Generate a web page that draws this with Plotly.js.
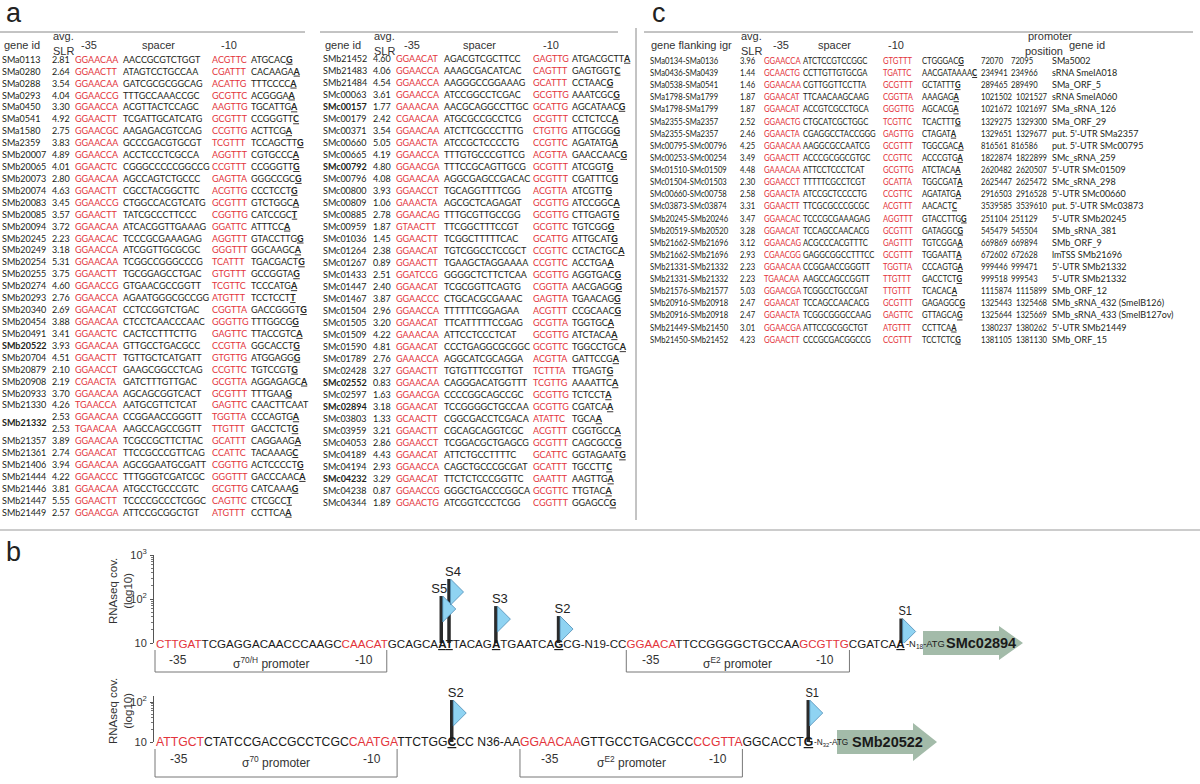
<!DOCTYPE html>
<html><head><meta charset="utf-8">
<script src="https://cdn.plot.ly/plotly-3.0.1.min.js"></script>
<style>html,body{margin:0;padding:0;background:#fff}#chart{width:1200px;height:784px}</style>
</head><body><div id="chart"></div>
<script>
// ================= DATA =================
// Panel a, left table
const aGeneL = ['SMa0113','SMa0280','SMa0288','SMa0293','SMa0450','SMa0541','SMa1580','SMa2359','SMb20007','SMb20065','SMb20073','SMb20074','SMb20083','SMb20085','SMb20094','SMb20245','SMb20249','SMb20254','SMb20255','SMb20274','SMb20293','SMb20340','SMb20454','SMb20491','SMb20522','SMb20704','SMb20879','SMb20908','SMb20933','SMb21330','SMb21332','SMb21332','SMb21357','SMb21361','SMb21406','SMb21444','SMb21446','SMb21447','SMb21449'];
const aSlrL = [2.81,2.64,3.54,4.04,3.30,4.92,2.75,3.83,4.89,4.01,2.80,4.63,3.45,3.57,3.72,2.23,3.18,5.31,3.75,4.60,2.76,2.69,3.88,3.41,3.93,4.51,2.10,2.19,3.70,4.26,2.53,2.53,3.89,2.74,3.94,4.22,3.81,5.55,2.57];
const aM35L = ['GGAACAA','GGAACTT','GGAACAA','GGAACCG','GGAACCA','GGAACTT','GGAACGC','GGAACAA','GGAACCA','GGAACTC','GGAACAA','GGAACTT','GGAACCG','GGAACTT','GGAACAA','GGAACAC','GGAACCA','GGAACAA','GGAACTT','GGAACCG','GGAACCA','GGAACAT','GGAACAA','GGAACTC','GGAACAA','GGAACTT','GGAACCT','CGAACTA','GGAACAA','TGAACCA','GGAACAA','TGAACAA','GGAACAA','GGAACAT','GGAACAA','GGAACCC','GGAACAA','GGAACTT','GGAACGA'];
const aSpacerL = ['AACCGCGTCTGGT','ATAGTCCTGCCAA','GATCGCGCGGCAG','TTTGCCAAACCGC','ACGTTACTCCAGC','TCGATTGCATCATG','AAGAGACGTCCAG','GCCCGACGTGCGT','ACCTCCCTCGCCA','CGGGCCCCCGGCCG','AGCCAGTCTGCCC','CGCCTACGGCTTC','CTGGCCACGTCATG','TATCGCCCTTCCC','ATCACGGTTGAAAG','TCCCGCGAAAGAG','ATCGGTTGCGCGC','TCGGCCGGGCCCG','TGCGGAGCCTGAC','GTGAACGCCGGTT','AGAATGGGCGCCGG','CCTCCGGTCTGAC','CTCCTCAACCCAAC','CACTCCTTTCTTG','GTTGCCTGACGCC','TGTTGCTCATGATT','GAAGCGGCCTCAG','GATCTTTGTTGAC','AGCAGCGGTCACT','AATGCGTTCTCAT','CCGGAACCGGGTT','AAGCCAGCCGGTT','TCGCCGCTTCTTAC','TTCCGCCCGTTCAG','AGCGGAATGCGATT','TTTGGGTCGATCGC','ATGCCTGCCCGTC','TCCCCGCCCTCGGC','ATTCCGCGGCTGT'];
const aM10L = ['ACGTTC','CGATTT','ACATTG','GCGTTC','AAGTTG','GCGTTT','CCGTTG','TCGTTT','AGGTTT','CCGTTT','GAGTTA','ACGTTG','GCGTTT','CGGTTG','GGATTC','AGGTTT','GGGTTT','TCATTT','GTGTTT','TCGTTC','ATGTTT','CGGTTA','GGGTTG','GAGTTC','CCGTTA','GTGTTG','CCGTTC','GCGTTA','GCGTTT','GAGTTC','TGGTTA','TTGTTT','GCATTT','CCATTC','CGGTTG','GGGTTT','GCGTTG','CAGTTC','ATGTTT'];
const aDownL = ['ATGCAC','CACAAGA','TTTCCCC','ACGGGA','TGCATTG','CCGGGTT','ACTTCG','TCCAGCTT','CGTGCCC','CCGGGTT','GGGCCGC','CCCTCCT','GTCTGGC','CATCCGC','ATTTCC','GTACCTTG','GGCAAGC','TGACGACT','GCCGGTA','TCCCATG','TCCTCCT','GACCGGGT','TTTGGCG','TTACCGTC','GGCACCT','ATGGAGG','TGTCCGT','AGGAGAGC','TTTGAA','CAACTTCAAT','CCCAGTG','GACCTCT','CAGGAAG','TACAAAG','ACTCCCCT','GACCCAAC','CATCAAA','CTCGCC','CCTTCA'];
const aTssL = ['G','A','A','A','A','C','A','G','A','G','G','G','A','T','A','G','A','G','G','A','T','G','G','A','G','G','G','A','G','','A','G','A','C','G','A','G','T','A'];
const aBoldL = ['SMb20522','SMb21332'];

// Panel a, right table
const aGeneR = ['SMb21452','SMb21483','SMb21484','SMc00063','SMc00157','SMc00179','SMc00371','SMc00660','SMc00665','SMc00792','SMc00796','SMc00800','SMc00809','SMc00885','SMc00959','SMc01036','SMc01264','SMc01267','SMc01433','SMc01447','SMc01467','SMc01504','SMc01505','SMc01509','SMc01590','SMc01789','SMc02428','SMc02552','SMc02597','SMc02894','SMc03803','SMc03959','SMc04053','SMc04189','SMc04194','SMc04232','SMc04238','SMc04344'];
const aSlrR = [4.60,4.06,4.54,3.61,1.77,2.42,3.54,5.05,4.19,4.80,4.08,3.93,1.06,2.78,1.87,1.45,2.38,0.89,2.51,2.40,3.87,2.96,3.20,4.22,4.81,2.76,3.27,0.83,1.63,3.18,1.33,3.21,2.86,4.43,2.93,3.29,0.87,1.89];
const aM35R = ['GGAACAT','GGAACCA','GGAACCA','GGAACCA','GAAACAA','CGAACAA','GGAACAA','GGAACTA','GGAACCA','GGAACGA','GGAACAA','GGAACCT','GAAACTA','GGAACAG','GTAACTT','GGAACTT','GGAACAT','GGAACTT','GGATCCG','GGAACAT','GGAACCC','GGAACCA','GGAACAT','GAAACAA','GGAACAT','GAAACCA','GGAACTT','GGAACAA','GGAACGA','GGAACAT','GCAACTT','GGAACTT','GGAACCT','GGAACAT','GGAACCA','GGAACAT','GGAACCG','GGAACTG'];
const aSpacerR = ['AGACGTCGCTTCC','AAAGCGACATCAC','AAGGGCCGGAAAG','ATCCGGCCTCGAC','AACGCAGGCCTTGC','ATGCGCCGCCTCG','ATCTTCGCCCTTTG','ATCCGCTCCCCTG','TTTGTGCCCGTTCG','TTTCCGCAGTTGCG','AGGCGAGCCGACAC','TGCAGGTTTTCGG','AGCGCTCAGAGAT','TTTGCGTTGCCGG','TTCGGCTTTCCGT','TCGGCTTTTTCAC','TGTCGGCCTCCGCT','TGAAGCTAGGAAAA','GGGGCTCTTCTCAA','TCGCGGTTCAGTG','CTGCACGCGAAAC','TTTTTTCGGAGAA','TTCATTTTTCCGAG','ATTCCTCCCTCAT','CCCTGAGGCGCGGC','AGGCATCGCAGGA','TGTGTTTCCGTTGT','CAGGGACATGGTTT','CCCCGGCAGCCGC','TCCGGGGCTGCCAA','CGGCGACCTCGACA','CGCAGCAGGTCGC','TCGGACGCTGAGCG','ATTCTGCCTTTTC','CAGCTGCCCGCGAT','TTCTCTCCCGGTTC','GGGCTGACCCGGCA','ATCGGTCCCTCGG'];
const aM10R = ['GAGTTG','CAGTTT','GCATTT','GCGTTG','GCATTG','GCGTTT','CTGTTG','CCGTTC','ACGTTA','GCGTTT','GCGTTT','ACGTTA','GCGTTG','GCGTTG','GCGTTC','GCATTG','CCGTTC','CCGTTC','GCGTTG','CGGTTA','GAGTTA','ACGTTT','GCGTTA','GCGTTG','GCGTTC','ACGTTA','TCTTTA','TCGTTG','GCGTTG','GCGTTG','ATATTC','ACGTTT','GCGTTT','GCATTC','GCATTT','GAATTT','GCGTTC','CGGTTT'];
const aDownR = ['ATGACGCTT','GAGTGGT','CCTAAC','AAATCGC','AGCATAAC','CCTCTCC','ATTGCGG','AGATATG','GAACCAAC','ATCGGT','CGATTTC','ATCGTT','ATCCGGC','CTTGAGT','TGTCGG','ATTGCAT','CCTACTGC','ACCTGA','AGGTGAC','AACGAGG','TGAACAG','CCGCAAC','TGGTGC','ATCTACA','TGGCCTGC','GATTCCG','TTGAGT','AAAATTC','TCTCCT','CGATCA','TGCA','CGGTGCC','CAGCGCC','GGTAGAAT','TGCCTT','AAGTTG','TTGTAC','GGAGCC'];
const aTssR = ['A','C','G','G','G','A','G','A','G','G','G','G','A','G','G','G','A','A','G','G','G','G','A','A','A','A','G','A','A','A','A','A','G','G','C','A','A','G'];
const aBoldR = ['SMc00157','SMc00792','SMc02552','SMc02894','SMc04232'];

// Panel c
const cFlank = ['SMa0134-SMa0136','SMa0436-SMa0439','SMa0538-SMa0541','SMa1798-SMa1799','SMa1798-SMa1799','SMa2355-SMa2357','SMa2355-SMa2357','SMc00795-SMc00796','SMc00253-SMc00254','SMc01510-SMc01509','SMc01504-SMc01503','SMc00660-SMc00758','SMc03873-SMc03874','SMb20245-SMb20246','SMb20519-SMb20520','SMb21662-SMb21696','SMb21662-SMb21696','SMb21331-SMb21332','SMb21331-SMb21332','SMb21576-SMb21577','SMb20916-SMb20918','SMb20916-SMb20918','SMb21449-SMb21450','SMb21450-SMb21452'];
const cSlr = [3.96,1.44,1.46,1.87,1.87,2.52,2.46,4.25,3.49,4.48,2.30,2.58,3.31,3.47,3.28,3.12,2.93,2.23,2.23,5.03,2.47,2.47,3.01,4.23];
const cM35 = ['GGAACCA','GCAACTG','GGAACAA','GGAACAT','GGAACAT','GGAACTG','GGAACTA','GGAACAA','GGAACTT','GAAACAA','GGAACCT','GGAACTA','GGAACTT','GGAACAC','GGAACAT','GGAACAG','CGAACGG','GGAACAA','TGAACAA','GGAACGA','GGAACAT','GGAACTA','GGAACGA','GGAACTT'];
const cSpacer = ['ATCTCCGTCCGGC','CCTTGTTGTGCGA','CGTTGGTTCCTTA','TTCAACAAGCAAG','ACCGTCGCCTGCA','CTGCATCGCTGGC','CGAGGCCTACCGGG','AAGGCGCCAATCG','ACCCGCGGCGTGC','ATTCCTCCCTCAT','TTTTTCGCCTCGT','ATCCGCTCCCCTG','TTCGCGCCCGCGC','TCCCGCGAAAGAG','TCCAGCCAACACG','ACGCCCACGTTTC','GAGGCGGCCTTTCC','CCGGAACCGGGTT','AAGCCAGCCGGTT','TCGGCCTGCCGAT','TCCAGCCAACACG','TCGGCGGGCCAAG','ATTCCGCGGCTGT','CCCGCGACGGCCG'];
const cM10 = ['GTGTTT','TGATTC','GCGTTT','CGGTTA','GGGTTG','TCGTTC','GAGTTG','GCGTTT','CCGTTC','GCGTTG','GCATTA','CCGTTC','ACGTTT','AGGTTT','GCGTTT','GAGTTT','GCGTTT','TGGTTA','TTGTTT','TTGTTT','GCGTTT','GAGTTC','ATGTTT','CCGTTT'];
const cDown = ['CTGGGAC','AACGATAAAA','GCTATTT','AAAGAG','AGCACG','TCACTTT','CTAGAT','TGGCGAC','ACCCGTG','ATCTACA','TGGCGAT','AGATATG','AACACT','GTACCTTG','GATAGGC','TGTCGGA','TGGAATT','CCCAGTG','GACCTCT','TCACAC','GAGAGGC','GTTAGCA','CCTTCA','TCCTCTC'];
const cTss = ['G','C','G','A','A','G','A','A','A','A','A','A','C','G','G','A','A','A','G','A','G','G','A','G'];
const cPosStart = [72070,234941,289465,1021502,1021672,1329275,1329651,816561,1822874,2620482,2625447,2916503,3539585,251104,545479,669869,672602,999446,999518,1115874,1325443,1325644,1380237,1381105];
const cPosEnd = [72095,234966,289490,1021527,1021697,1329300,1329677,816586,1822899,2620507,2625472,2916528,3539610,251129,545504,669894,672628,999471,999543,1115899,1325468,1325669,1380262,1381130];
const cGeneId = ['SMa5002','sRNA SmelA018','SMa_ORF_5','sRNA SmelA060','SMa_sRNA_126','SMa_ORF_29',"put. 5'-UTR SMa2357","put. 5'-UTR SMc00795",'SMc_sRNA_259',"5'-UTR SMc01509",'SMc_sRNA_298',"5'-UTR SMc00660","put. 5'-UTR SMc03873","5'-UTR SMb20245",'SMb_sRNA_381','SMb_ORF_9','lmTSS SMb21696',"5'-UTR SMb21332","5'-UTR SMb21332",'SMb_ORF_12','SMb_sRNA_432 (SmelB126)','SMb_sRNA_433 (SmelB127ov)',"5'-UTR SMb21449",'SMb_ORF_15'];

// Panel b, SMc02894 upstream region
const b1SeqText = ['CTTGAT','TCGAGGACAACCCAAGC','CAACAT','GCAGCA','A','T','TACAG','A','TGAATCA','G','CG-N19-CC','GGAACA','TTCCGGGGCTGCCAA','GCGTTG','CGATCA','A','-N','18','-ATG'];
const b1SeqRole = ['m35','seq','m10','seq','S5','S4','seq','S3','seq','S2','seq','m35','seq','m10','seq','S1','tail','tailsub','tail'];
const b1Promoters = ['σ<sup>70/H</sup> promoter','σ<sup>E2</sup> promoter'];
const b1TssNames = ['S5','S4','S3','S2','S1'];
const b1TssCov = [117, 285, 69, 41, 36];
const b1Gene = 'SMc02894';
// Panel b, SMb20522 upstream region
const b2SeqText = ['ATTGCT','CTATCCGACCGCCTCGC','CAATGA','TTCTGG','C','CC N36-AA','GGAACAA','GTTGCCTGACGCC','CCGTTA','GGCACCT','G','-N','32','-ATG'];
const b2SeqRole = ['m35','seq','m10','seq','S2','seq','m35','seq','m10','seq','S1','tail','tailsub','tail'];
const b2Promoters = ['σ<sup>70</sup> promoter','σ<sup>E2</sup> promoter'];
const b2TssNames = ['S2','S1'];
const b2TssCov = [112, 112];
const b2Gene = 'SMb20522';
const covTickVals = [10, 100, 1000];
const covTickText = ['10', '10<sup>2</sup>', '10<sup>3</sup>'];

// ================= STYLE / LAYOUT =================
const W = 1200, H = 784;
const RED = '#e3343b', INK = '#231f20', DARK = '#333333', RULE = '#888888';
const TBL_FONT = 'Lato, "Open Sans", sans-serif';
const SANS = '"Liberation Sans", Arial, sans-serif';
const SEQ_FACE = 'Liberation Sans';
const px = x => x / W;
const py = y => 1 - y / H;

const tblL = {y0: 60.5, dy: 11.92, size: 9, gene: 2, slr: 52, m35: 75, spacer: 123, m10: 212, down: 251};
const tblR = {y0: 59.5, dy: 12.02, size: 9, gene: 323, slr: 373, m35: 396, spacer: 444, m10: 533, down: 572};
// panel c is set in the same type size as panel a, horizontally condensed to fit its columns
const tblC = {y0: 61.7, dy: 12.12, size: 9, numSize: 9, idSize: 9, squeeze: 0.85, squeezeFrom: 640, squeezeTo: 1048,
  gene: 650, slr: 740, m35: 764, spacer: 803, m10: 883, down: 922, pos1: 981, pos2: 1011, pos2wide: 1016, id: 1052};

const traces = [], annotations = [], shapes = [];

function textTrace(xs, ys, texts, yaxis, color, size) {
  return {type: 'scatter', mode: 'text', x: xs, y: ys, text: texts, textposition: 'middle right',
    textfont: {family: TBL_FONT, size: size, color: color}, xaxis: 'x', yaxis: yaxis,
    hoverinfo: 'skip', showlegend: false, cliponaxis: false};
}
const colX = (n, x) => Array(n).fill(x);
const tssFmt = (down, tss) => down + (tss ? '<b><u>' + tss + '</u></b>' : '');

function geneColumn(genes, bold, merge) {
  const ys = [], t = [];
  let i = 0;
  while (i < genes.length) {
    let j = i;
    while (merge && j + 1 < genes.length && genes[j + 1] === genes[i]) j++;
    ys.push((i + j) / 2);
    t.push(bold.includes(genes[i]) ? '<b>' + genes[i] + '</b>' : genes[i]);
    i = j + 1;
  }
  return {ys, t};
}

function addPromoterTable(cfg, yaxis, genes, slr, m35, spacer, m10, down, tss, bold, merge) {
  const n = genes.length, idx = genes.map((_, i) => i), s = cfg.size;
  const g = geneColumn(genes, bold, merge);
  traces.push(textTrace(colX(g.ys.length, cfg.gene), g.ys, g.t, yaxis, INK, s));
  traces.push(textTrace(colX(n, cfg.slr), idx, slr.map(v => v.toFixed(2)), yaxis, INK, cfg.numSize || s));
  traces.push(textTrace(colX(n, cfg.m35), idx, m35, yaxis, RED, s));
  traces.push(textTrace(colX(n, cfg.spacer), idx, spacer, yaxis, INK, s));
  traces.push(textTrace(colX(n, cfg.m10), idx, m10, yaxis, RED, s));
  traces.push(textTrace(colX(n, cfg.down), idx, down.map((d, i) => tssFmt(d, tss[i])), yaxis, INK, s));
}
addPromoterTable(tblL, 'y', aGeneL, aSlrL, aM35L, aSpacerL, aM10L, aDownL, aTssL, aBoldL, true);
addPromoterTable(tblR, 'y2', aGeneR, aSlrR, aM35R, aSpacerR, aM10R, aDownR, aTssR, aBoldR, true);
addPromoterTable(tblC, 'y5', cFlank, cSlr, cM35, cSpacer, cM10, cDown, cTss, [], false);
{
  const n = cFlank.length, idx = cFlank.map((_, i) => i);
  traces.push(textTrace(colX(n, tblC.pos1), idx, cPosStart.map(String), 'y5', INK, tblC.numSize));
  traces.push(textTrace(cPosStart.map(p => String(p).length >= 7 ? tblC.pos2wide : tblC.pos2), idx, cPosEnd.map(String), 'y5', INK, tblC.numSize));
  traces.push(textTrace(colX(n, tblC.id), idx, cGeneId, 'y5', INK, tblC.idSize));
}

function ann(text, x, y, o) {
  o = o || {};
  annotations.push(Object.assign({text: text, x: px(x), y: py(y), xref: 'paper', yref: 'paper',
    showarrow: false, xanchor: 'left', yanchor: 'middle', borderpad: 0,
    font: {family: SANS, size: 11, color: DARK}}, o));
}
function line(x0, y0, x1, y1, color, w) {
  shapes.push({type: 'line', xref: 'paper', yref: 'paper', x0: px(x0), y0: py(y0), x1: px(x1), y1: py(y1),
    line: {color: color || RULE, width: w || 1}});
}

// panel letters
ann('a', 5, 13, {font: {family: SANS, size: 27, color: '#222'}});
ann('c', 651, 13, {font: {family: SANS, size: 27, color: '#222'}});
ann('b', 5, 552, {font: {family: SANS, size: 27, color: '#222'}});

// table headers
function tableHeader(cfg, x35, xsp, x10) {
  ann('gene id', cfg.gene + 1, 45);
  ann('avg.', cfg.slr, 36); ann('SLR', cfg.slr, 51);
  ann('-35', x35, 45); ann('spacer', xsp, 45); ann('-10', x10, 45);
}
tableHeader(tblL, 80, 141, 220);
tableHeader(tblR, 403, 462, 542);
ann('gene flanking igr', 650, 45);
ann('avg.', 740, 36); ann('SLR', 740, 51);
ann('-35', 772, 45); ann('spacer', 817, 45); ann('-10', 887, 45);
ann('promoter', 1027, 36); ann('position', 1024, 51); ann('gene id', 1068, 45);

// rules
line(0, 32, 305, 32);
line(320, 32, 618, 32);
line(644, 32, 1193, 32);
line(636, 28, 636, 520);
line(0, 530, 1200, 530, '#999');

// ================= PANEL b diagrams =================
const cv = document.createElement('canvas').getContext('2d');
function tw(s, size, bold) {
  cv.font = (bold ? 'bold ' : '') + size + 'px "' + SEQ_FACE + '"';
  return cv.measureText(s).width;
}
const isTss = r => /^S\d/.test(r);
const isTail = r => r === 'tail' || r === 'tailsub';
function segW(t, role, size, tail) {
  if (role === 'tail') return tw(t, size * tail, false);
  if (role === 'tailsub') return tw(t, size * tail * 0.7, false);
  return tw(t, size, isTss(role));
}

// layout of each diagram (pixels): sequence start, centre of last TSS nucleotide, end of "ATG", baseline etc.
const diag1 = {yaxis: 'y3', axisX: 153, x0: 155, xLast: 902, xEnd: 945, y10: 643, ppd: 44, logTop: 3, boxBottom: 672, labelY: 662,
  arrow: {x0: 923, x1: 1023, headX: 999, body: 12, head: 17}, geneX: 981};
const diag2 = {yaxis: 'y4', axisX: 153, x0: 155, xLast: 809, xEnd: 848, y10: 742, ppd: 40, logTop: 2.15, boxBottom: 777, labelY: 761,
  arrow: {x0: 837, x1: 937, headX: 913, body: 12, head: 19}, geneX: 887};

function addDiagram(cfg, seqText, seqRole, promoters, tssNames, tssCov, gene) {
  const lastName = tssNames[tssNames.length - 1];
  const li = seqRole.indexOf(lastName);
  let natural = 0;
  for (let i = 0; i < li; i++) natural += segW(seqText[i], seqRole[i], 1, 1);
  natural += segW(seqText[li], seqRole[li], 1, 1) / 2;
  const fs = (cfg.xLast - cfg.x0) / natural;
  const tailStart = cfg.xLast + segW(seqText[li], seqRole[li], fs, 1) / 2;
  let tailNat = 0;
  seqRole.forEach((r, i) => { if (isTail(r)) tailNat += segW(seqText[i], r, fs, 1); });
  const tail = Math.min(1, (cfg.xEnd - tailStart) / tailNat);
  const starts = [];
  let cur = cfg.x0;
  seqText.forEach((t, i) => { starts.push(cur); cur += segW(t, seqRole[i], fs, tail); });
  const ends = starts.map((s, i) => s + segW(seqText[i], seqRole[i], fs, tail));
  const html = seqText.map((t, i) => {
    const r = seqRole[i];
    if (isTail(r)) return '';
    if (r === 'm35' || r === 'm10') return '<span style="color:' + RED + '">' + t + '</span>';
    if (isTss(r)) return '<b><u>' + t + '</u></b>';
    return t;
  }).join('');
  ann(html, cfg.x0, cfg.y10, {font: {family: SANS, size: fs, color: '#1a1a1a'}});
  const tailIdx = seqRole.map((r, i) => i).filter(i => isTail(seqRole[i]));
  const tailHtml = tailIdx.map(i => seqRole[i] === 'tailsub' ? '<sub>' + seqText[i] + '</sub>' : seqText[i]).join('');
  ann(tailHtml, starts[tailIdx[0]], cfg.y10 + 1, {font: {family: SANS, size: fs * tail, color: '#1a1a1a'}});
  // promoter boxes
  let p = 0;
  seqRole.forEach((r, i) => {
    if (r !== 'm35') return;
    const j = seqRole.indexOf('m10', i);
    const bx0 = starts[i], bx1 = ends[j];
    shapes.push({type: 'path', xref: 'paper', yref: 'paper', layer: 'below',
      path: 'M' + px(bx0) + ',' + py(cfg.y10 + 7) + 'L' + px(bx0) + ',' + py(cfg.boxBottom) + 'L' + px(bx1) + ',' + py(cfg.boxBottom) + 'L' + px(bx1) + ',' + py(cfg.y10 + 7),
      line: {color: '#777', width: 1}});
    ann('-35', (starts[i] + ends[i]) / 2, cfg.labelY - 2, {xanchor: 'center', font: {family: SANS, size: 12, color: DARK}});
    ann('-10', (starts[j] + ends[j]) / 2, cfg.labelY - 2, {xanchor: 'center', font: {family: SANS, size: 12, color: DARK}});
    ann(promoters[p++], (bx0 + bx1) / 2, cfg.labelY + 1, {xanchor: 'center', font: {family: SANS, size: 12, color: DARK}});
  });
  // TSS bars and flags
  const bx = [], by = [], fx = [], fy = [], lx = [], ly = [], lt = [], lp = [];
  const flagW = 13, flagH = 26;
  const centres = tssNames.map(name => { const i = seqRole.indexOf(name); return (starts[i] + ends[i]) / 2; });
  tssNames.forEach((name, k) => {
    const x = centres[k];
    const c = tssCov[k];
    bx.push(x, x, null); by.push(10, c, null);
    fx.push(x + 1.5, x + 1.5 + flagW, x + 1.5, x + 1.5, null);
    fy.push(c, c * Math.pow(10, -flagH / 2 / cfg.ppd), c * Math.pow(10, -flagH / cfg.ppd), c, null);
    // a label whose neighbouring bar is very close is set flush left of that bar
    const crowded = k + 1 < centres.length && centres[k + 1] - x < 14;
    lx.push(crowded ? x + 6 : x + 4); ly.push(c); lt.push(name); lp.push(crowded ? 'top left' : 'top center');
  });
  traces.push({type: 'scatter', mode: 'lines', x: bx, y: by, xaxis: 'x', yaxis: cfg.yaxis,
    line: {color: '#2a2a2a', width: 3.5}, hoverinfo: 'skip', showlegend: false, cliponaxis: false});
  traces.push({type: 'scatter', mode: 'lines', x: fx, y: fy, xaxis: 'x', yaxis: cfg.yaxis, fill: 'toself',
    fillcolor: '#8fd3f2', line: {color: '#4f8db5', width: 0.8}, hoverinfo: 'skip', showlegend: false, cliponaxis: false});
  traces.push({type: 'scatter', mode: 'text', x: lx, y: ly, text: lt, textposition: lp, xaxis: 'x', yaxis: cfg.yaxis,
    textfont: {family: SANS, size: 13, color: '#222'}, hoverinfo: 'skip', showlegend: false, cliponaxis: false});
  // gene arrow
  const a = cfg.arrow, yc = cfg.y10;
  shapes.push({type: 'path', xref: 'paper', yref: 'paper', layer: 'below', fillcolor: '#a3bba9', line: {width: 0},
    path: 'M' + px(a.x0) + ',' + py(yc - a.body) + 'L' + px(a.headX) + ',' + py(yc - a.body) + 'L' + px(a.headX) + ',' + py(yc - a.head) +
      'L' + px(a.x1) + ',' + py(yc) + 'L' + px(a.headX) + ',' + py(yc + a.head) + 'L' + px(a.headX) + ',' + py(yc + a.body) +
      'L' + px(a.x0) + ',' + py(yc + a.body) + 'Z'});
  ann('<b>' + gene + '</b>', cfg.geneX, yc, {xanchor: 'center', font: {family: SANS, size: 14.5, color: '#1a1a1a'}});
  // axis title
  ann('RNAseq cov.<br>(log10)', 120, cfg.y10 - (cfg.logTop - 1) * cfg.ppd / 2 - 8, {xanchor: 'center', textangle: -90,
    font: {family: SANS, size: 11.5, color: DARK}});
}
addDiagram(diag1, b1SeqText, b1SeqRole, b1Promoters, b1TssNames, b1TssCov, b1Gene);
addDiagram(diag2, b2SeqText, b2SeqRole, b2Promoters, b2TssNames, b2TssCov, b2Gene);

// ================= AXES =================
function rowAxis(cfg) {
  return {range: [(H - cfg.y0) / cfg.dy, -cfg.y0 / cfg.dy], domain: [0, 1], visible: false, fixedrange: true};
}
const minorVals = [];
[10, 100].forEach(d => { for (let m = 2; m <= 9; m++) minorVals.push(d * m); });
function covAxis(cfg) {
  const top = cfg.y10 - (cfg.logTop - 1) * cfg.ppd;
  return {type: 'log', range: [1, cfg.logTop], domain: [py(cfg.y10), py(top)], anchor: 'free', position: px(cfg.axisX),
    showline: true, linecolor: '#555', linewidth: 1, ticks: 'outside', ticklen: 3, tickcolor: '#555',
    ticklabelstandoff: 1,
    tickvals: covTickVals, ticktext: covTickText, tickfont: {family: SANS, size: 11, color: DARK},
    showgrid: false, zeroline: false, fixedrange: true,
    minor: {tickvals: minorVals, ticks: 'outside', ticklen: 2, tickcolor: '#777', showgrid: false}};
}
const layout = {
  width: W, height: H, autosize: false, margin: {l: 0, r: 0, t: 0, b: 0},
  paper_bgcolor: '#fff', plot_bgcolor: 'rgba(0,0,0,0)', showlegend: false,
  xaxis: {range: [0, W], domain: [0, 1], visible: false, fixedrange: true},
  yaxis: rowAxis(tblL),
  yaxis2: Object.assign(rowAxis(tblR), {overlaying: 'y'}),
  yaxis5: Object.assign(rowAxis(tblC), {overlaying: 'y'}),
  yaxis3: covAxis(diag1),
  yaxis4: covAxis(diag2),
  annotations: annotations, shapes: shapes
};
Plotly.newPlot('chart', traces, layout, {staticPlot: true, displayModeBar: false}).then(gd => {
  // condense the panel c cells horizontally (the original uses a narrow typeface)
  gd.querySelectorAll('.scatterlayer .textpoint text').forEach(t => {
    let b;
    try { b = t.getBBox(); } catch (e) { return; }
    if (b.x >= tblC.squeezeFrom && b.x < tblC.squeezeTo && b.y < 520) {
      const w = t.getComputedTextLength();
      if (w > 0) {
        t.setAttribute('textLength', (w * tblC.squeeze).toFixed(2));
        t.setAttribute('lengthAdjust', 'spacingAndGlyphs');
      }
    }
  });
});
</script></body></html>
